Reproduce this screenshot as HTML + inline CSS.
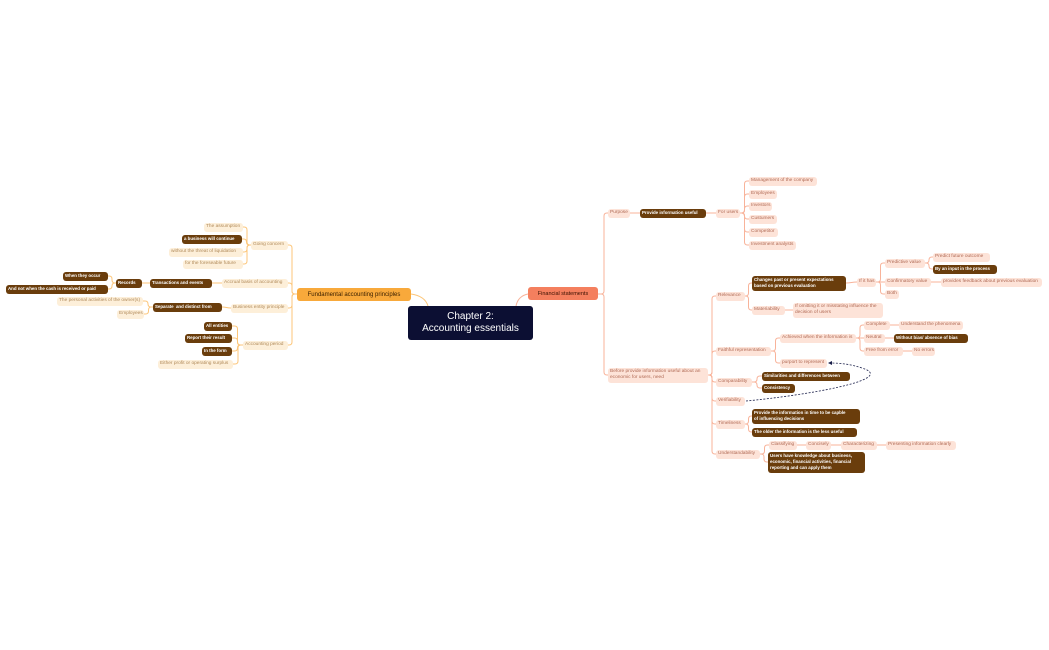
<!DOCTYPE html>
<html><head><meta charset="utf-8"><style>
html,body{margin:0;padding:0;background:#fff;width:1049px;height:650px;overflow:hidden;font-family:"Liberation Sans",sans-serif}
.n{position:absolute;box-sizing:border-box;font-size:4.8px;line-height:6px;padding:1.5px 2px;border-radius:3px;white-space:nowrap;overflow:hidden}
.rl{background:#fde3d8;color:#b06a55}
.ll{background:#fdefd9;color:#b08a5a}
.b{background:#6a3d0c;color:#fff;font-weight:bold;font-size:4.4px}
svg{position:absolute;left:0;top:0}
</style></head><body>
<svg id="s" width="1049" height="650"></svg>
<div class="n" style="left:408px;top:306px;width:125px;height:34px;background:#0c0f33;color:#fff;font-size:10px;line-height:12px;text-align:center;padding-top:5px;border-radius:3px">Chapter 2:<br>Accounting essentials</div>
<div class="n" style="left:297px;top:288px;width:114px;height:13px;background:#f8a93b;color:#3a2000;font-size:6px;line-height:10px;text-align:center">Fundamental accounting principles</div>
<div class="n" style="left:528px;top:287px;width:70px;height:13px;background:#f47f5e;color:#3a1000;font-size:5.5px;line-height:10px;text-align:center">Financial statements</div>
<div id="c"></div>
<script>
var N={
gc:[251,288,245,"Going concern","ll"],
a1:[204,243,227,"The assumption","ll"],
a2:[182,242,239,"a business will continue","b"],
a3:[169,243,252,"without the threat of liquidation","ll"],
a4:[183,243,264,"for the foreseable future","ll"],
ab:[222,288,283,"Accrual basis of accounting","ll"],
te:[150,212,283,"Transactions and events","b"],
rc:[116,142,283,"Records","b"],
wo:[63,108,276,"When they occur","b"],
an:[6,108,289,"And not when the cash is received or paid","b"],
be:[231,288,308,"Business entity principle","ll"],
sd:[153,222,307,"Separate &nbsp;and distinct from","b"],
po:[57,143,301,"The personal activities of the owner(s)","ll"],
em:[117,144,314,"Employees","ll"],
ap:[243,288,345,"Accounting period","ll"],
ae:[204,232,326,"All entities","b"],
rr:[185,232,338,"Report their result","b"],
it:[202,232,351,"In the form","b"],
ep:[158,233,364,"Either profit or operating surplus","ll"],
pu:[608,630,213,"Purpose","rl"],
pi:[640,706,213,"Provide information useful","b"],
fu:[716,740,213,"For users","rl"],
u1:[749,817,181,"Management of the company","rl"],
u2:[749,777,194,"Employees","rl"],
u3:[749,772,206,"Investors","rl"],
u4:[749,777,219,"Custumers","rl"],
u5:[749,778,232,"Competitor","rl"],
u6:[749,796,245,"Investment analysts","rl"],
bp:[608,708,375,"Before provide information useful about an<br>economic for users, need","rl"],
re:[716,745,296,"Relevance","rl"],
ch:[752,846,283,"Changes past or present expectations<br>based on previous evaluation","b"],
ih:[857,876,282,"If it has","rl"],
pv:[885,925,263,"Predictive value","rl"],
pf:[933,990,257,"Predict future outcome","rl"],
bi:[933,997,269,"By an input in the process","b"],
cv:[885,931,282,"Confirmatory value","rl"],
pr:[941,1042,282,"provides feedback about previous evaluation","rl"],
bo:[885,899,294,"Both","rl"],
ma:[752,785,310,"Materiability","rl"],
io:[793,883,310,"If omitting it or misstating influence the<br>decision of users","rl"],
fr:[716,771,351,"Faithful representation","rl"],
aw:[780,856,338,"Achieved when the information is","rl"],
co:[864,890,325,"Complete","rl"],
un:[899,963,325,"Understand the phenomena","rl"],
ne:[864,885,338,"Neutral","rl"],
wb:[894,968,338,"Without bias/ absence of bias","b"],
fe:[864,903,351,"Free from error","rl"],
nr:[912,935,351,"No errors","rl"],
pp:[780,827,363,"purport to represent","rl"],
cp:[716,752,382,"Comparability","rl"],
sm:[762,850,376,"Similarities and differences between","b"],
cs:[762,795,388,"Consistency","b"],
ve:[716,745,401,"Verifiability","rl"],
ti:[716,745,424,"Timeliness","rl"],
pt:[752,860,416,"Provide the information in time to be capble<br>of influencing decisions","b"],
ol:[752,857,432,"The older the information is the less useful","b"],
ud:[716,760,454,"Understandability","rl"],
cl:[769,797,445,"Classifying","rl"],
cn:[806,831,445,"Concisely","rl"],
cr:[841,877,445,"Characterizing","rl"],
pc:[886,956,445,"Presenting information clearly","rl"],
uh:[768,865,462,"Users have knowledge about business,<br>economic, financial activities, financial<br>reporting and can apply them","b"]
};
var E={FA:["gc","ab","be","ap"],gc:["a1","a2","a3","a4"],ab:["te"],te:["rc"],rc:["wo","an"],be:["sd"],sd:["po","em"],ap:["ae","rr","it","ep"],
FS:["pu","bp"],pu:["pi"],pi:["fu"],fu:["u1","u2","u3","u4","u5","u6"],bp:["re","fr","cp","ve","ti","ud"],re:["ch","ma"],ch:["ih"],ih:["pv","cv","bo"],pv:["pf","bi"],cv:["pr"],ma:["io"],fr:["aw","pp"],aw:["co","ne","fe"],co:["un"],ne:["wb"],fe:["nr"],cp:["sm","cs"],ti:["pt","ol"],ud:["cl","uh"],cl:["cn"],cn:["cr"],cr:["pc"]};
N.FA=[297,297,294,"","",1];N.FS=[598,598,294,"","",1];
var h="";
for(var k in N){var n=N[k];if(n[5])continue;var L=(n[3].match(/<br>/g)||[]).length+1;var ht=L*6+3;
h+='<div class="n '+n[4]+'" style="left:'+n[0]+'px;top:'+(n[2]-ht/2)+'px;width:'+(n[1]-n[0])+'px;height:'+ht+'px">'+n[3]+'</div>';}
document.getElementById("c").innerHTML=h;
var p="";
for(var k in E){var a=N[k];var left=a[0]<420;E[k].forEach(function(c){var b=N[c];
var col=left?"#fcc67a":"#f8b39a";var x1,x2,xb,y1=a[2],y2=b[2];
if(left){x1=a[0];x2=b[1];xb=(k=="FA")?292:x2+(x1-x2)/2;}
else{x1=a[1];x2=b[0];xb=(k=="FS")?604:x1+(x2-x1)/2;}
var d;var dy=y2-y1;
if(Math.abs(dy)<5){d="M"+x1+" "+y1+" C"+xb+" "+y1+" "+xb+" "+y2+" "+x2+" "+y2;}
else{var s=dy>0?1:-1;var dir=left?-1:1;
d="M"+x1+" "+y1+" H"+(xb-3*dir)+" Q"+xb+" "+y1+" "+xb+" "+(y1+3*s)+" V"+(y2-3*s)+" Q"+xb+" "+y2+" "+(xb+3*dir)+" "+y2+" H"+x2;}
p+='<path d="'+d+'" stroke="'+col+'" stroke-width="1" fill="none"/>';});}
p+='<path d="M411 294 Q425 296 428 306" stroke="#fcc67a" fill="none"/><path d="M528 294 Q518 296 516 306" stroke="#f8b39a" fill="none"/>';
p+='<path d="M746 401 C800 396 900 380 862 368 C850 364 840 363 829 363" stroke="#1a1f4a" stroke-width="0.8" stroke-dasharray="2,1.5" fill="none"/><path d="M828 363 L832 361 L832 365 Z" fill="#1a1f4a"/>';
document.getElementById("s").innerHTML=p;
</script>
</body></html>
